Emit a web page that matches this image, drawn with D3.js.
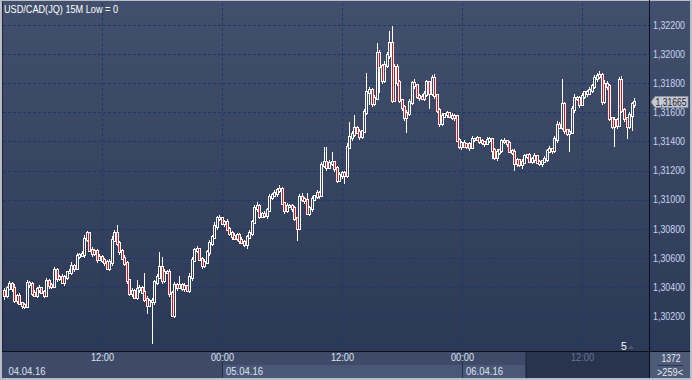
<!DOCTYPE html>
<html><head><meta charset="utf-8">
<script src="https://cdn.jsdelivr.net/npm/d3@7"></script>
<style>
body{margin:0;background:#b9bdc6}
svg{display:block;font-family:"Liberation Sans",Arial,sans-serif}
</style>
</head><body>
<svg id="c" width="692" height="380"></svg>
<script>
// ---- data (15M candles, 04.04.16 02:15 -> 06.04.16 17:15) ----
const firstOpen = 1.30368;
const closes = [
1.30341,1.30389,1.30417,1.30389,1.30307,1.30334,1.30286,1.30273,1.30266,1.30424,
1.30417,1.30355,1.30341,1.30383,1.30389,1.30362,1.30341,1.30438,1.30410,1.30403,
1.30513,1.30458,1.30465,1.30431,1.30465,1.30499,1.30499,1.30541,1.30527,1.30609,
1.30616,1.30623,1.30726,1.30767,1.30651,1.30630,1.30644,1.30589,1.30602,1.30582,
1.30568,1.30527,1.30568,1.30719,1.30767,1.30699,1.30644,1.30596,1.30561,1.30444,
1.30355,1.30369,1.30328,1.30383,1.30389,1.30362,1.30314,1.30273,1.30300,1.30300,
1.30431,1.30465,1.30534,1.30444,1.30499,1.30499,1.30355,1.30204,1.30410,1.30396,
1.30410,1.30389,1.30403,1.30376,1.30465,1.30582,1.30651,1.30657,1.30589,1.30547,
1.30568,1.30637,1.30699,1.30740,1.30815,1.30870,1.30870,1.30836,1.30843,1.30795,
1.30767,1.30747,1.30733,1.30754,1.30719,1.30706,1.30692,1.30740,1.30767,1.30843,
1.30939,1.30953,1.30884,1.30898,1.30891,1.30925,1.31015,1.31028,1.31042,1.31063,
1.31070,1.30973,1.30925,1.30953,1.30953,1.30939,1.30870,1.30802,1.31015,1.31001,
1.30994,1.30905,1.30939,1.31001,1.31021,1.31042,1.31028,1.31234,1.31255,1.31221,
1.31248,1.31255,1.31214,1.31131,1.31166,1.31180,1.31166,1.31358,1.31427,1.31447,
1.31489,1.31461,1.31434,1.31468,1.31599,1.31736,1.31750,1.31660,1.31695,1.32004,
1.31915,1.31818,1.31921,1.31990,1.32073,1.31681,1.31908,1.31805,1.31681,1.31633,
1.31564,1.31592,1.31667,1.31798,1.31784,1.31709,1.31702,1.31695,1.31722,1.31805,
1.31729,1.31832,1.31715,1.31612,1.31523,1.31571,1.31585,1.31592,1.31571,1.31564,
1.31571,1.31406,1.31365,1.31386,1.31365,1.31379,1.31358,1.31413,1.31413,1.31420,
1.31399,1.31392,1.31386,1.31406,1.31413,1.31337,1.31289,1.31324,1.31337,1.31399,
1.31399,1.31386,1.31331,1.31324,1.31248,1.31269,1.31241,1.31255,1.31296,1.31303,
1.31262,1.31276,1.31296,1.31255,1.31248,1.31262,1.31276,1.31331,1.31344,1.31337,
1.31413,1.31509,1.31496,1.31654,1.31475,1.31454,1.31461,1.31619,1.31695,1.31695,
1.31654,1.31709,1.31736,1.31729,1.31750,1.31777,1.31832,1.31846,1.31853,1.31674,
1.31791,1.31777,1.31557,1.31502,1.31544,1.31509,1.31818,1.31612,1.31557,1.31502,
1.31578,1.31654,1.31665
];
// wick lengths beyond the body, in pips (0.0001)
const upperWickPips = [
2,1.5,2,1,2.5,1.5,2,1,1.5,2,
1.5,1,2,1.5,2,1,1.5,2,1,1.5,
2,1.5,1,2,1.5,1,2,2.5,1,2,
1.5,2,2.5,1.5,1,2,1.5,1,2,1.5,
1,1.5,2,3,2,5.5,1.5,1,2,1.5,
1,2,1.5,6,2,1.5,13,2,1.5,2,
1.5,2,10,7,2,1.5,2,1,2,1.5,
6,1.5,2,1,2.5,2,1.5,2,1,1.5,
2,1.5,2,1,2.5,1.5,2,1,1.5,2,
1,1.5,2,1,1.5,2,1,1.5,2,1.5,
2,3,1.5,1,2,1.5,2,1.5,2,1,
3,1.5,1,2,1.5,1,1.5,1,2,3,
1.5,5,1.5,2,1,2,1.5,2,10,10,
2,7,1,1.5,2,1,1.5,3,10,2,
9,1.5,2,1,2,13,2,1.5,2,7,
2,1.5,3,2,8.5,12,2,2,1.5,1,
1.5,2,2,1.5,3,1,1.5,2,2,1.5,
1,2,2.5,1,1.5,2,1,1.5,1,2,
1.5,1,1.5,1,2,1,1.5,2,1,1.5,
1,1.5,1,2,1.5,1,1.5,2,1,1.5,
2,1,1.5,1,2,1.5,1,2,1.5,1,
1.5,1,2,1,1.5,1,2,1.5,2,1,
2,3,2,17,1.5,1,2,2,3,1.5,
1.5,2,1,1.5,2,1.5,2,2,3,1.5,
3,2,1.5,1,2,1.5,2,3,1.5,1,
2,1.5,3
];
const lowerWickPips = [
2.5,1.5,1,2,1.5,2,1,2,1.5,1,
2,1.5,1,1.5,2,1,1.5,1,2,1.5,
1,2,1.5,1,2,1.5,1,1.5,2,1,
1.5,1,2,1.5,1,2,1.5,2,1,1.5,
2,1,1.5,2,1,1.5,2,1,1.5,2,
1.5,2,1,1.5,2,1,1.5,5.5,1,29,
2,1.5,1,2,1.5,1,2,1,1.5,2,
1,1.5,2,1,1.5,2,1,1.5,1,2,
1.5,1,2,1.5,1,2,1.5,1,2,1,
1.5,2,1,1.5,2,1,1.5,3,1,1.5,
1,2,1.5,1,1.5,2,1,1.5,1,2,
1.5,1,2,1.5,1,2,1.5,8,1,1.5,
2,1,1.5,2,1,1.5,2,1,1.5,2,
1,1.5,2,1.5,1,2,5.5,1.5,1,2,
1.5,1,2,1.5,1,1.5,8,2,1.5,1,
18,2,1.5,1,2,1.5,1,2,1.5,2,
2,10,1.5,1,2,1.5,2,1,1.5,1,
10,1.5,2,1,2,1.5,1,2,1,1.5,
2,1,1.5,2,1,1.5,2,1,1.5,1,
1.5,1,2,1,1.5,5.5,1,2,1.5,1,
1.5,2,1,1.5,5,2,1.5,3,1,1.5,
1,1.5,2,1,1.5,2,1,1.5,1,2,
1.5,2,1,1.5,2,1.5,12,1,2,1.5,
2,1,1.5,2,1,1.5,1,2,1.5,2,
1.5,2,1,1.5,14,2,1,1.5,2,8,
1.5,10,2
];
const priceTicks = [1.302,1.304,1.306,1.308,1.310,1.312,1.314,1.316,1.318,1.320,1.322];
const timeTickIndex = [39,87,135,183,231];
const timeTickLabels = ["12:00","00:00","12:00","00:00","12:00"];
const dateStartIndex = [0,87,183];
const dateLabels = ["04.04.16","05.04.16","06.04.16"];
const lastPrice = 1.31665;
const titleText = "USD/CAD(JQ) 15M Low = 0";
const totalBars = "1372", visibleBars = ">259<";

// ---- derived OHLC ----
const N = closes.length;
const opens = closes.map((c,i)=> i===0 ? firstOpen : closes[i-1]);
const highs = closes.map((c,i)=> Math.max(c,opens[i]) + upperWickPips[i]*0.0001);
const lows  = closes.map((c,i)=> Math.min(c,opens[i]) - lowerWickPips[i]*0.0001);

const svg = d3.select("#c");
const W=692,H=380, PL=3, PR=649, PT=1, PB=351;
const FS = "10.5px";

const defs = svg.append("defs");
const g = defs.append("linearGradient").attr("id","bg").attr("gradientUnits","userSpaceOnUse")
  .attr("x1",0).attr("y1",0).attr("x2",0).attr("y2",352);
g.append("stop").attr("offset",0).attr("stop-color","#424f6d");
g.append("stop").attr("offset",1).attr("stop-color","#2c3956");
defs.append("clipPath").attr("id","pc").append("rect").attr("x",PL).attr("y",PT).attr("width",PR-PL).attr("height",PB-PT);

// frame/background
svg.append("rect").attr("x",0).attr("y",0).attr("width",W).attr("height",H).attr("fill","#b9bdc6");
svg.append("rect").attr("x",2).attr("y",1).attr("width",688).attr("height",377).attr("fill","url(#bg)");
svg.append("line").attr("x1",2.5).attr("x2",2.5).attr("y1",1).attr("y2",378).attr("stroke","#1d2537");

const x = d3.scaleLinear().domain([0,N-1]).range([4.5,634.5]);
const y = d3.scaleLinear().domain([1.302,1.322]).range([315.5,24.5]);

// grid
const grid = svg.append("g").attr("clip-path","url(#pc)");
grid.append("g").attr("transform",`translate(${PL},0)`)
  .call(d3.axisRight(y).tickValues(priceTicks).tickSize(PR-PL).tickFormat(""))
  .call(s=>{s.select(".domain").remove();
    s.selectAll("line").attr("stroke","#1b3866").attr("stroke-dasharray","3,2").attr("shape-rendering","crispEdges")
     .attr("transform","translate(0,0.5)");});
grid.append("g").attr("transform",`translate(0,${PB})`)
  .call(d3.axisTop(x).tickValues(timeTickIndex).tickSize(PB-PT).tickFormat(""))
  .call(s=>{s.select(".domain").remove();
    s.selectAll("line").attr("stroke","#1b3866").attr("stroke-dasharray","3,2").attr("shape-rendering","crispEdges");});

// candles
const cg = svg.append("g").attr("clip-path","url(#pc)").attr("shape-rendering","crispEdges");
const idx = d3.range(N);
const cx = i => Math.floor(x(i));
cg.selectAll("rect.w").data(idx).join("rect").attr("class","w")
  .attr("x",i=>cx(i)).attr("width",1)
  .attr("y",i=>Math.round(y(highs[i])))
  .attr("height",i=>Math.max(1,Math.round(y(lows[i]))-Math.round(y(highs[i]))+1))
  .attr("fill","#ffffff");
const bt = i=>Math.round(y(Math.max(opens[i],closes[i])));
const bb = i=>Math.round(y(Math.min(opens[i],closes[i])));
cg.selectAll("rect.o").data(idx).join("rect").attr("class","o")
  .attr("x",i=>cx(i)-1).attr("width",3)
  .attr("y",i=>bt(i)-1).attr("height",i=>bb(i)-bt(i)+3)
  .attr("fill","#ffffff");
cg.selectAll("rect.in").data(idx).join("rect").attr("class","in")
  .attr("x",i=>cx(i)).attr("width",1)
  .attr("y",i=>bt(i)).attr("height",i=>bb(i)-bt(i)+1)
  .attr("fill",i=> closes[i]<opens[i] ? "#ff0000" : "url(#bg)");

// bottom axis panels and separator lines
svg.append("rect").attr("x",2).attr("y",352).attr("width",647).attr("height",26).attr("fill","#3e4a67");
svg.append("rect").attr("x",x(dateStartIndex[1])).attr("y",365).attr("width",525-x(dateStartIndex[1])).attr("height",13).attr("fill","#4a5776");
svg.append("rect").attr("x",526).attr("y",352).attr("width",123).attr("height",26).attr("fill","#28334e");
svg.append("rect").attr("x",650).attr("y",352).attr("width",40).attr("height",26).attr("fill","#4d5a78");
svg.append("line").attr("x1",2).attr("x2",690).attr("y1",351.5).attr("y2",351.5).attr("stroke","#0b0f1a");
svg.append("line").attr("x1",649.5).attr("x2",649.5).attr("y1",0).attr("y2",378).attr("stroke","#0b0f1a");
[dateStartIndex[1],dateStartIndex[2]].forEach(i=>{
  svg.append("line").attr("x1",x(i)+0.5).attr("x2",x(i)+0.5).attr("y1",352).attr("y2",378).attr("stroke","#22304b");
});
svg.append("line").attr("x1",526).attr("x2",526).attr("y1",352).attr("y2",378).attr("stroke","#1d2538");

// bottom time axis
const xa = svg.append("g").attr("transform","translate(0,352)")
  .call(d3.axisBottom(x).tickValues(timeTickIndex).tickSize(0).tickPadding(2).tickFormat((d,k)=>timeTickLabels[k]));
xa.select(".domain").remove();
xa.selectAll("text").attr("font-family","Liberation Sans, Arial, sans-serif").attr("font-size",FS)
  .attr("fill",d=> x(d)>526 ? "#6a7693" : "#dfe5f2").attr("dy","0.71em").attr("y",1.5)
  .attr("textLength",23).attr("lengthAdjust","spacingAndGlyphs");

svg.append("g").selectAll("text").data(dateStartIndex).join("text")
  .attr("x",i=>x(i)+4).attr("y",375).attr("font-size",FS).attr("fill","#dfe5f2")
  .attr("textLength",37).attr("lengthAdjust","spacingAndGlyphs")
  .text((d,k)=>dateLabels[k]);

// right price axis
const ya = svg.append("g").attr("transform","translate(650,0.5)")
  .call(d3.axisRight(y).tickValues(priceTicks).tickSize(0).tickPadding(3)
    .tickFormat(v=>d3.format(".5f")(v).replace(".",",")));
ya.select(".domain").remove();
ya.selectAll("text").attr("font-family","Liberation Sans, Arial, sans-serif").attr("font-size",FS).attr("fill","#c9d6f0")
  .attr("textLength",32).attr("lengthAdjust","spacingAndGlyphs");

// last price marker
const ly = Math.round(y(lastPrice));
svg.append("path").attr("d",`M651,${ly} L655,${ly-5.5} L688,${ly-5.5} L688,${ly+5.5} L655,${ly+5.5} Z`)
  .attr("fill","#c6cad2").attr("stroke","#8d929c").attr("stroke-width",0.8);
svg.append("text").attr("x",655.5).attr("y",ly+4).attr("font-size",FS).attr("fill","#1a2232")
  .attr("textLength",31).attr("lengthAdjust","spacingAndGlyphs")
  .text(d3.format(".5f")(lastPrice).replace(".",","));

// title
svg.append("text").attr("x",4).attr("y",13).attr("font-size",FS).attr("fill","#ffffff")
  .attr("textLength",114).attr("lengthAdjust","spacingAndGlyphs").text(titleText);

// bar counter
svg.append("text").attr("x",661.5).attr("y",362).attr("font-size",FS).attr("fill","#e6ebf5")
  .attr("textLength",19).attr("lengthAdjust","spacingAndGlyphs").text(totalBars);
svg.append("line").attr("x1",658).attr("x2",683).attr("y1",365.5).attr("y2",365.5).attr("stroke","#2a344c");
svg.append("text").attr("x",657).attr("y",375.5).attr("font-size","10px").attr("fill","#e6ebf5")
  .attr("textLength",26).attr("lengthAdjust","spacingAndGlyphs").text(visibleBars);

// scroll marker
svg.append("text").attr("x",621).attr("y",350).attr("font-size",FS).attr("fill","#ffffff").text("5");
svg.append("path").attr("d","M628,349 L634,349 L631,345 Z").attr("fill","#4e5670");
</script>
</body></html>
